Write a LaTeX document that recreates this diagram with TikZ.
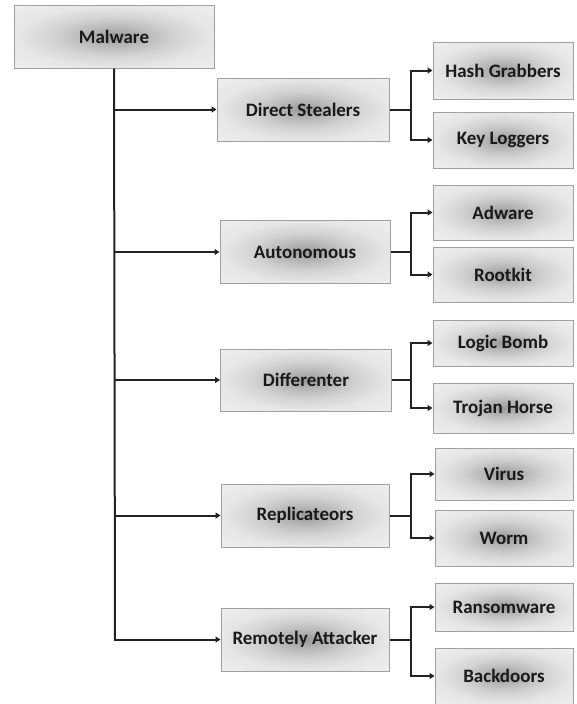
\documentclass[tikz,border=0pt]{standalone}
\usepackage{fontspec}
\setmainfont{Carlito}
\usetikzlibrary{arrows.meta}
\definecolor{boxedge}{HTML}{A0A0A0}
\definecolor{shA}{HTML}{9A9A9A}
\definecolor{shB}{HTML}{B6B6B6}
\definecolor{shC}{HTML}{D2D2D2}
\definecolor{shD}{HTML}{E6E6E6}
\definecolor{shE}{HTML}{EEEEEE}
\definecolor{linec}{HTML}{222222}
\pgfdeclareradialshading{boxshade}{\pgfpoint{0bp}{0bp}}{%
  color(0bp)=(shA); color(7bp)=(shB); color(15bp)=(shC); color(24bp)=(shD); color(35bp)=(shE); color(72bp)=(shE)}
\tikzset{
  mbox/.style={draw=boxedge, line width=1pt, shading=boxshade,
    minimum width=#1, font=\bfseries\fontsize{19}{21}\selectfont, text=black!90, inner sep=0pt},
  conn/.style={draw=linec, line width=2pt},
  arr/.style={conn, -{Triangle[length=5pt,width=6pt]}}
}
\begin{document}
\begin{tikzpicture}[x=1pt,y=-1pt]
\useasboundingbox (0,0) rectangle (576,704);
% root
\node[mbox=200pt, minimum height=63pt] (mal) at (114,36.5) {Malware};
% level 1
\node[mbox=172pt, minimum height=63pt] (ds) at (303,109.5) {Direct Stealers};
\node[mbox=170pt, minimum height=63pt] (au) at (305,252) {Autonomous};
\node[mbox=171pt, minimum height=62pt] (df) at (306,380) {Differenter};
\node[mbox=168pt, minimum height=63pt] (rp) at (305,515.5) {Replicateors};
\node[mbox=168pt, minimum height=63pt] (ra) at (305,639.5) {Remotely Attacker};
% level 2
\node[mbox=140pt, minimum height=57pt] (hg) at (503,70.5) {Hash Grabbers};
\node[mbox=140pt, minimum height=56pt] (kl) at (503,140) {Key Loggers};
\node[mbox=140pt, minimum height=55pt] (ad) at (503,212.5) {Adware};
\node[mbox=140pt, minimum height=55pt] (rk) at (503,274.5) {Rootkit};
\node[mbox=140pt, minimum height=46pt] (lb) at (503,343) {Logic Bomb};
\node[mbox=140pt, minimum height=50pt] (th) at (503,408) {Trojan Horse};
\node[mbox=138pt, minimum height=52pt] (vi) at (504,474) {Virus};
\node[mbox=138pt, minimum height=56pt] (wo) at (504,538) {Worm};
\node[mbox=138pt, minimum height=48pt] (rw) at (504,607) {Ransomware};
\node[mbox=138pt, minimum height=56pt] (bd) at (504,676) {Backdoors};
% trunk
\coordinate (tend) at (115,640);
\draw[conn] (mal.south) -- (tend);
\foreach \n in {ds,au,df,rp,ra}{
  \draw[arr] (mal.south |- \n.west) -- (\n.west);
}
% branches
\foreach \p/\a/\b in {ds/hg/kl, au/ad/rk, df/lb/th, rp/vi/wo, ra/rw/bd}{
  \coordinate (j\p) at (411,0 |- \p.east);
  \draw[conn] (\p.east) -- (j\p);
  \draw[arr] (j\p) |- (\a.west);
  \draw[arr] (j\p) |- (\b.west);
}
\end{tikzpicture}
\end{document}
